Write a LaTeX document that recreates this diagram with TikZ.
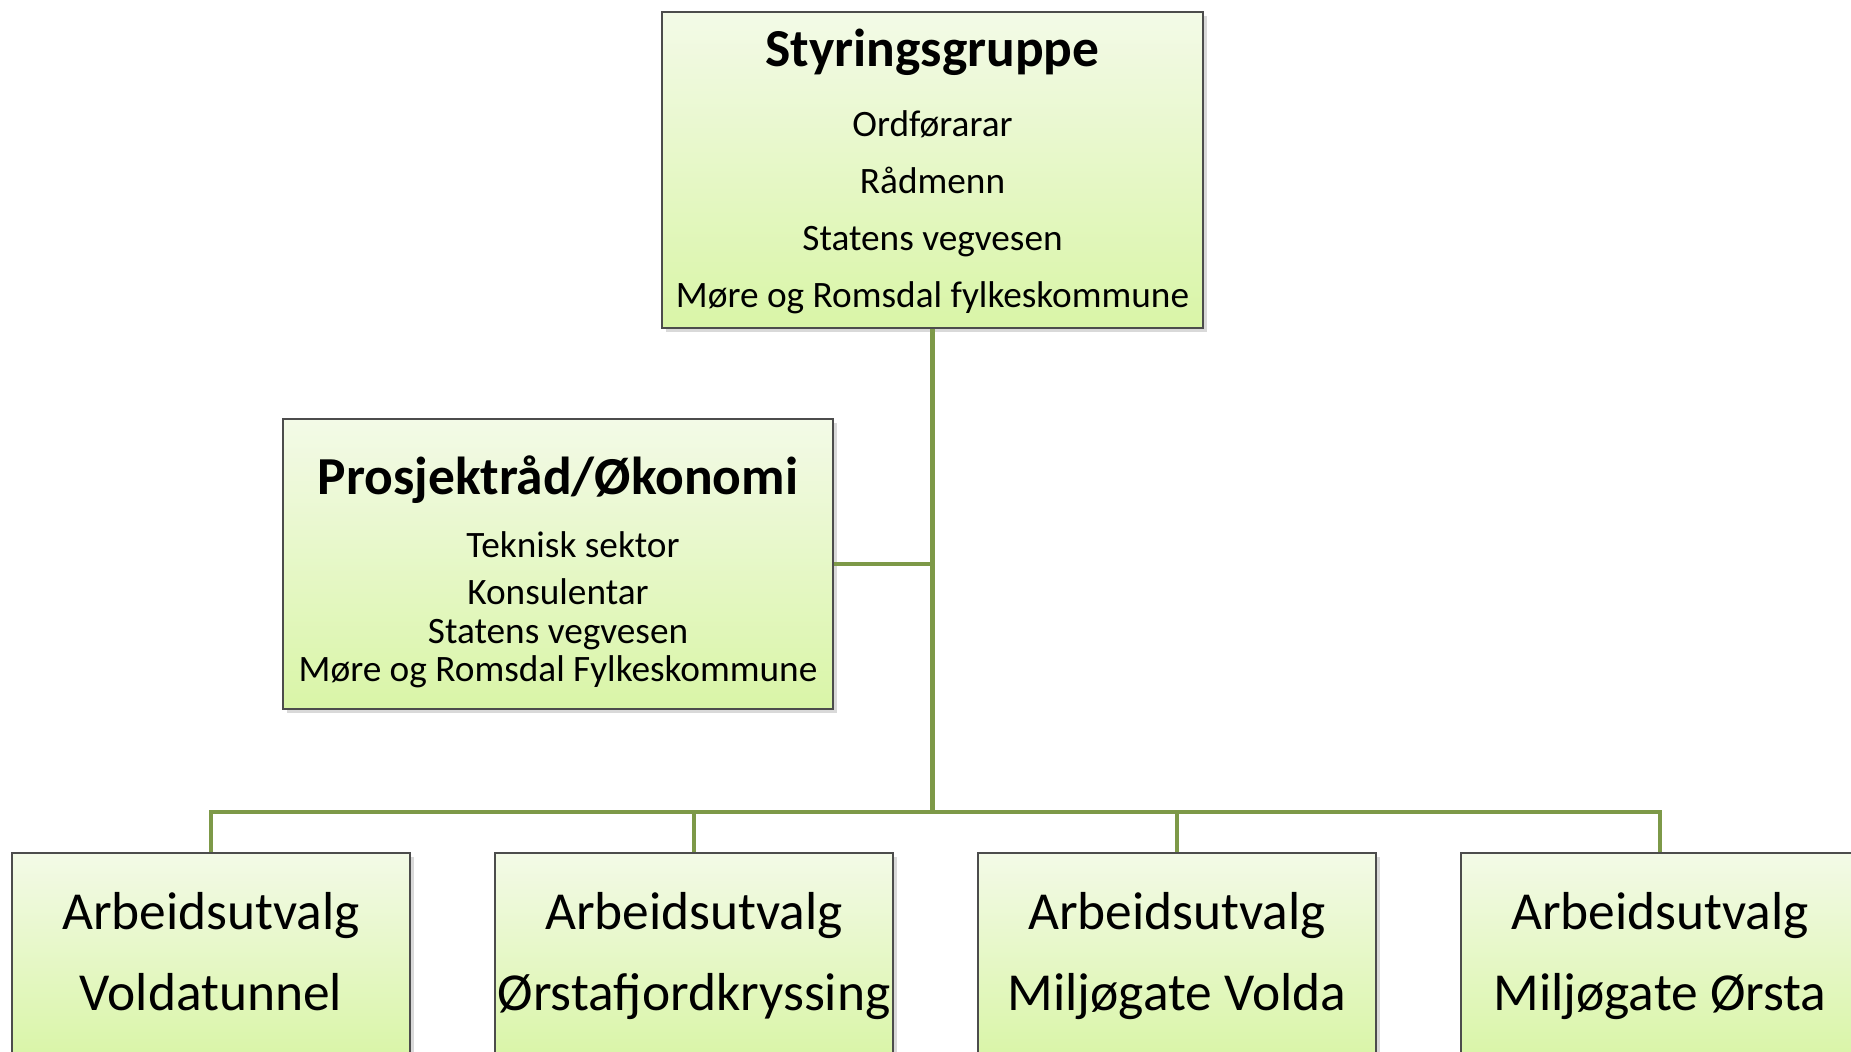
\documentclass[tikz,border=0pt]{standalone}
\usepackage{fontspec}
\setmainfont{Carlito}
\usetikzlibrary{positioning,shadows}

\definecolor{boxtop}{HTML}{F3FAE7}
\definecolor{boxbottom}{HTML}{D9F5A7}
\definecolor{linkgreen}{HTML}{7D9948}

\newcommand{\headfont}{\fontsize{15.2}{18}\selectfont\bfseries}
\newcommand{\topsubfont}{\fontsize{10.6}{16.2}\selectfont}
\newcommand{\midsubfont}{\fontsize{10.6}{11}\selectfont}

\begin{document}
\begin{tikzpicture}[
  x=0.01cm, y=-0.01cm,
  orgbox/.style={draw=black!70, line width=0.5pt, top color=boxtop,
              bottom color=boxbottom, align=center, inner sep=0pt,
              drop shadow={shadow xshift=1.2pt, shadow yshift=-1.2pt,
              opacity=0.3}},
  groupbox/.style={orgbox, minimum width=5.41cm, minimum height=3.16cm,
              font=\topsubfont},
  councilbox/.style={orgbox, minimum width=5.5cm, minimum height=2.9cm,
              font=\midsubfont},
  workbox/.style={orgbox, minimum width=3.98cm, minimum height=2.06cm,
              font=\fontsize{15.2}{23.2}\selectfont},
  link/.style={draw=linkgreen, line width=1.4pt},
]
  \useasboundingbox (0,0) rectangle (1851,1052);

  \node[groupbox] (styr) at (932.5, 170)
    {{\headfont\rule{0pt}{11.5pt}Styringsgruppe}\\[3.6pt]
    Ordførarar\\ Rådmenn\\ Statens vegvesen\\
    Møre og Romsdal fylkeskommune};

  \node[councilbox] (prosjekt) at (558, 564)
    {{\headfont\rule{0pt}{15.5pt}Prosjektråd/Økonomi}\\[7pt]
    \hspace*{0.3cm}Teknisk sektor\\[2.3pt] Konsulentar\\ Statens vegvesen\\
    Møre og Romsdal Fylkeskommune};

  \node[workbox] (tunnel) at (211, 956)
    {Arbeidsutvalg\\ Voldatunnel\vphantom{g}};
  \node[workbox] (fjord) at (694, 956)
    {Arbeidsutvalg\\ Ørstafjordkryssing};
  \node[workbox] (gvolda) at (1177, 956)
    {Arbeidsutvalg\\ Miljøgate Volda};
  \node[workbox] (gorsta) at (1660, 956)
    {Arbeidsutvalg\\ Miljøgate Ørsta};

  \coordinate (bus) at (932.5, 812);

  \draw[link] (styr.south) -- (styr.south |- bus);
  \draw[link] (prosjekt.east) -- (prosjekt.east -| styr.south);
  \draw[link] (tunnel.north) -- (tunnel.north |- bus)
    -- (gorsta.north |- bus) -- (gorsta.north);
  \foreach \n in {fjord, gvolda}
    \draw[link] (\n.north) -- (\n.north |- bus);
\end{tikzpicture}
\end{document}
